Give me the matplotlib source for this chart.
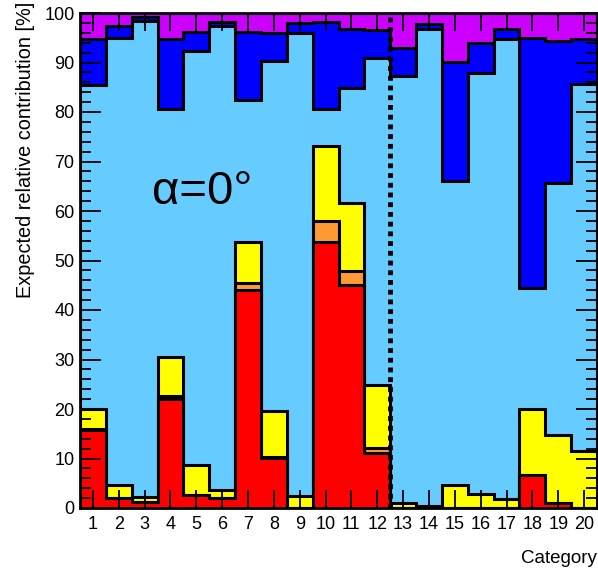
import numpy as np
import matplotlib
matplotlib.use("Agg")
import matplotlib.pyplot as plt
from matplotlib.ticker import MultipleLocator

plt.rcParams['font.family'] = ['Liberation Sans', 'DejaVu Sans']

categories = list(range(1, 21))
red = [15.7, 2.0, 1.3, 22.0, 2.7, 2.1, 44.0, 10.2, 0.0, 53.7, 45.1, 11.2, 0.0, 0.0, 0.0, 0.0, 0.0, 6.7, 1.1, 0.0]
orange = [0.2, 0.0, 0.0, 0.6, 0.0, 0.0, 1.4, 0.2, 0.0, 4.3, 2.8, 0.9, 0.0, 0.0, 0.0, 0.0, 0.0, 0.0, 0.0, 0.0]
yellow = [4.2, 2.6, 1.0, 8.0, 5.9, 1.5, 8.4, 9.1, 2.5, 15.1, 13.8, 12.7, 1.1, 0.4, 4.6, 2.8, 1.8, 13.2, 13.6, 11.6]
lightblue = [65.4, 90.3, 96.1, 50.1, 83.8, 93.7, 28.6, 70.9, 93.5, 7.6, 23.1, 66.2, 86.2, 96.4, 61.5, 85.0, 92.9, 24.6, 50.9, 74.1]
blue = [9.2, 2.5, 0.7, 14.0, 3.8, 0.9, 13.8, 5.6, 1.9, 17.4, 12.0, 5.5, 5.6, 1.0, 24.1, 6.2, 2.0, 50.4, 28.8, 9.0]
purple = [5.3, 2.6, 0.9, 5.3, 3.8, 1.8, 3.8, 4.0, 2.1, 1.9, 3.2, 3.5, 7.1, 2.2, 9.8, 6.0, 3.3, 5.1, 5.6, 5.3]

layers = [red, orange, yellow, lightblue, blue, purple]
colors = ['#ff0000', '#ff9933', '#ffff00', '#66ccff', '#0000ff', '#cc00ff']
separator = 12.5

fig = plt.figure(figsize=(5.98, 5.69), dpi=100)
ax = fig.add_axes([80/598, 1-508/569, (597-80)/598, (508-13)/569])

edges = np.arange(0.5, len(categories) + 1.0, 1.0)
cum = np.cumsum(np.array(layers), axis=0)
n = len(layers)
for i in range(n - 1, -1, -1):
    z = 0.1 + (n - i) * 0.1
    ax.stairs(cum[i], edges, baseline=0, fill=True, facecolor=colors[i],
              edgecolor='none', zorder=z)
    ax.stairs(cum[i], edges, baseline=0, fill=False, color='black',
              linewidth=2.2, zorder=z + 0.05)

ax.plot([separator, separator], [0, 100], color='black', linestyle=(0, (1, 1)),
        linewidth=3.5, zorder=5)

ax.text(3.3, 63.8, 'α=0°', fontsize=34, va='center', ha='left', zorder=6)

ax.set_xlim(0.5, 20.5)
ax.set_ylim(0, 100)
ax.set_xticks(categories)
ax.set_xticklabels([str(c) for c in categories])
ax.yaxis.set_major_locator(MultipleLocator(10))
ax.yaxis.set_minor_locator(MultipleLocator(2))
ax.tick_params(axis='both', which='both', direction='in', top=True, right=True,
               labelsize=13)
ax.tick_params(axis='x', which='major', length=13, width=1.3, pad=6)
ax.tick_params(axis='y', which='major', length=15, width=1.3, pad=4)
ax.tick_params(axis='y', which='minor', length=8, width=1.3)
ax.xaxis.set_zorder(10)
ax.yaxis.set_zorder(10)
for s in ax.spines.values():
    s.set_linewidth(2)
    s.set_zorder(11)

ax.set_xlabel('Category', fontsize=13.5, loc='right', labelpad=12)
ax.set_ylabel('Expected relative contribution [%]', fontsize=14.3, loc='top')
ax.yaxis.set_label_coords(-0.087, 1.022)

fig.savefig('out.png', dpi=100)
